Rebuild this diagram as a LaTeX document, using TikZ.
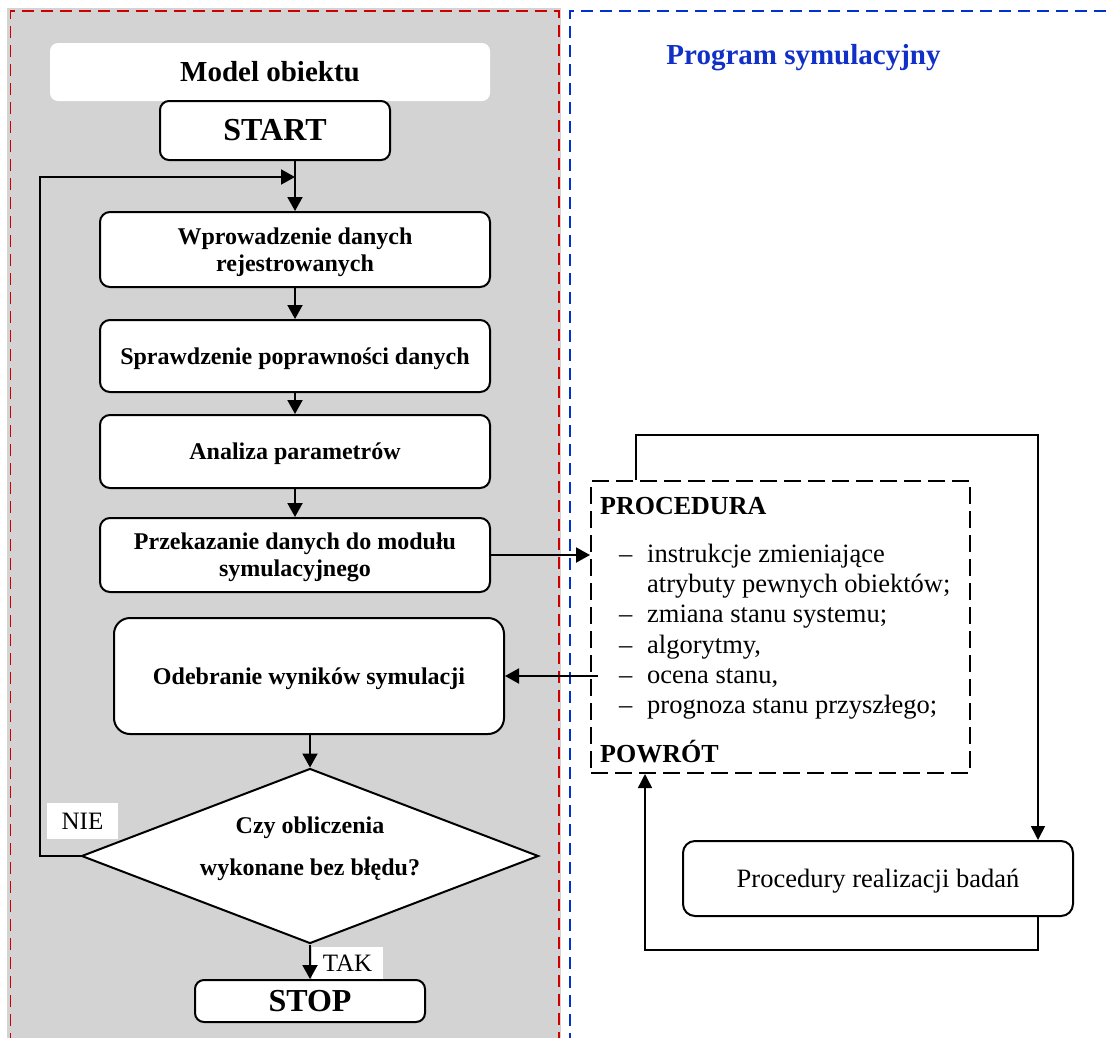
\documentclass[tikz,border=0pt]{standalone}
\usepackage{fontspec}
\setmainfont{Liberation Serif}
\usetikzlibrary{arrows.meta,shapes.geometric}

\definecolor{panelgray}{RGB}{211,211,211}
\definecolor{framered}{RGB}{204,0,0}
\definecolor{frameblue}{RGB}{0,51,204}
\definecolor{titleblue}{RGB}{16,48,200}

\newcommand\setfs[2]{\fontsize{#1}{#2}\selectfont}

\tikzset{
  arr/.style={-{Triangle[length=14pt,width=15pt]}, line width=2pt},
  thinarr/.style={-{Triangle[length=14pt,width=14pt]}, line width=1.5pt},
  flowbox/.style={draw, fill=white, line width=2pt, rounded corners=10pt,
    align=center, inner sep=0pt, minimum width=390pt, text depth=0pt,
    font=\bfseries\setfs{24}{27}},
  termbox/.style={draw, fill=white, line width=2pt, rounded corners=9pt,
    inner sep=0pt, minimum width=230pt, font=\bfseries\setfs{32}{36}},
  headbox/.style={fill=white, rounded corners=8pt, inner sep=0pt,
    font=\bfseries\setfs{29}{33}},
  tagbox/.style={fill=white, inner sep=0pt, font=\setfs{25}{28}},
  decision/.style={diamond, draw, fill=white, line width=2pt, inner sep=0pt,
    minimum width=457pt, minimum height=175pt, shape aspect=2.61},
  proctext/.style={anchor=base west, inner sep=0pt, font=\setfs{26.5}{30}},
  prochead/.style={anchor=base west, inner sep=0pt, font=\bfseries\setfs{26}{30}},
  framedash/.style={line width=1.6pt, dash pattern=on 12pt off 7pt},
}

\begin{document}
\begin{tikzpicture}[x=1pt,y=-1pt]
\useasboundingbox (0,0) rectangle (1111,1037);

% panels
\begin{scope}
  \clip (0,0) rectangle (1111,1037);
  \fill[panelgray] (7,8) rectangle (561,1045);
  \draw[framered, framedash] (10.5,1045) -- (10.5,11) -- (559,11) -- (559,1045);
  \draw[frameblue, framedash] (570,1045) -- (570,11) -- (1120,11);
\end{scope}

% left column: object model
\node[headbox, minimum width=440pt, minimum height=58pt] (model) at (270,72) {Model obiektu};
\node[termbox, minimum height=59pt] (start) at (275,130.5) {START};
\node[flowbox, minimum height=75pt] (b1) at (295,249.5) {Wprowadzenie danych\\rejestrowanych};
\node[flowbox, minimum height=72pt] (b2) at (295,356) {Sprawdzenie poprawności danych};
\node[flowbox, minimum height=73pt] (b3) at (295,451.5) {Analiza parametrów};
\node[flowbox, minimum height=74pt] (b4) at (295,555) {Przekazanie danych do modułu\\symulacyjnego};
\node[flowbox, minimum height=116pt, rounded corners=16pt] (b5) at (309,676) {Odebranie wyników symulacji};
\node[decision] (dec) at (310,856) {};
\node[align=center, inner sep=0pt, font=\bfseries\setfs{24}{42}] (decq) at (310,849)
  {Czy obliczenia\\wykonane bez błędu?};
\node[termbox, minimum height=42pt] (stop) at (310,1001) {STOP};

\node[tagbox, minimum width=71pt, minimum height=36pt] (nie) at (82.5,821) {NIE};
\node[tagbox, minimum width=71pt, minimum height=32pt] (tak) at (347.5,963) {TAK};

% left column connectors
\coordinate (loopup) at (40,177);
\coordinate (merge) at (295,177);
\draw[arr] (start.south -| b1.north) -- (b1.north);
\draw[arr] (dec.west) -| (loopup) -- (merge);
\draw[arr] (b1.south) -- (b2.north);
\draw[arr] (b2.south) -- (b3.north);
\draw[arr] (b3.south) -- (b4.north);
\draw[arr] (b5.south -| dec.north) -- (dec.north);
\draw[arr] (dec.south) -- (stop.north);

% right column: simulation program
\node[inner sep=0pt, text=titleblue, font=\bfseries\setfs{29}{33}] (title) at (803.5,58) {Program symulacyjny};

\node[draw, line width=2pt, dash pattern=on 17pt off 7pt, minimum width=379pt,
  minimum height=292pt, inner sep=0pt] (proc) at (780.5,627) {};
\node[prochead] (phead) at (600,514) {PROCEDURA};
\node[proctext] (d1) at (619,562) {–};
\node[proctext] (t1) at (647,562) {instrukcje zmieniające};
\node[proctext] (t1b) at (647,592) {atrybuty pewnych obiektów;};
\node[proctext] (d2) at (619,622) {–};
\node[proctext] (t2) at (647,622) {zmiana stanu systemu;};
\node[proctext] (d3) at (619,653) {–};
\node[proctext] (t3) at (647,653) {algorytmy,};
\node[proctext] (d4) at (619,683) {–};
\node[proctext] (t4) at (647,683) {ocena stanu,};
\node[proctext] (d5) at (619,713) {–};
\node[proctext] (t5) at (647,713) {prognoza stanu przyszłego;};
\node[prochead] (pret) at (600,762) {POWRÓT};

\node[draw, fill=white, line width=2pt, rounded corners=12pt, inner sep=0pt,
  minimum width=390pt, minimum height=75pt, text depth=0pt, font=\setfs{26.5}{30}] (badan)
  at (878,878.5) {Procedury realizacji badań};

% right column connectors
\coordinate (topL) at (636,435);
\coordinate (topR) at (1038,435);
\coordinate (botR) at (1038,950);
\coordinate (botL) at (645,950);
\draw[arr] (b4.east) -- (b4.east -| proc.west);
\draw[arr] ([xshift=8pt]b5.east -| proc.west) -- (b5.east);
\draw[thinarr] (proc.north -| topL) -- (topL) -- (topR) -- (badan.north -| topR);
\draw[thinarr] (badan.south -| botR) -- (botR) -- (botL) -- (proc.south -| botL);
\end{tikzpicture}
\end{document}
